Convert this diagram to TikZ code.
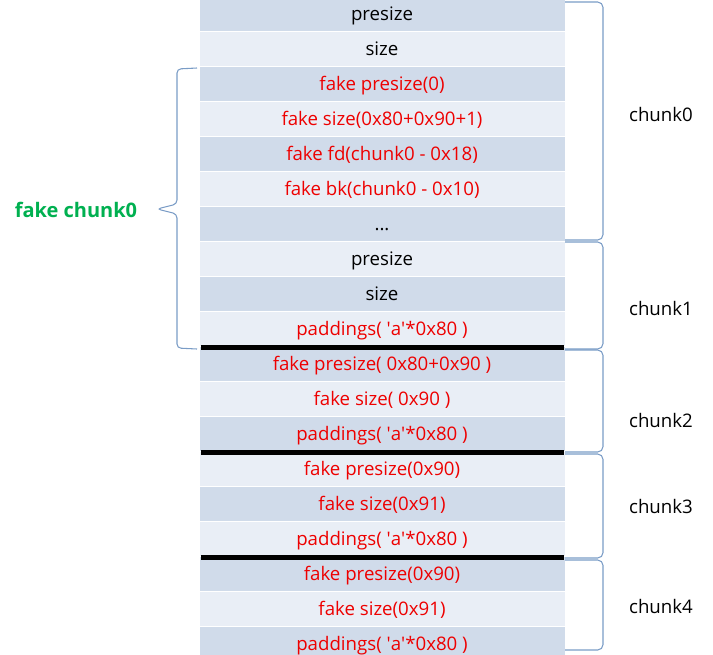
\documentclass[tikz,border=0pt]{standalone}
\usepackage{fontspec}
\setmainfont{Open Sans}
\usetikzlibrary{calc,positioning}
\definecolor{rowdark}{HTML}{D0DBEA}
\definecolor{rowlight}{HTML}{E9EEF6}
\definecolor{bracecol}{HTML}{7A9CC6}
\definecolor{fakered}{HTML}{EE0000}
\definecolor{fakegreen}{HTML}{00B050}
\newcommand{\rowdots}{...}
\newcommand{\sq}{\textquotesingle}
\tikzset{
  memrow/.style={minimum width=274.5pt, minimum height=26.25pt, inner sep=0pt,
    text height=12.5pt, text depth=1.5pt,
    draw=white, line width=0.6pt, font=\fontsize{14}{16}\selectfont},
  sepline/.style={line width=3.8pt, black},
  bracket/.style={draw=bracecol, line width=0.8pt, rounded corners=4pt},
  chunklabel/.style={font=\fontsize{14}{16}\selectfont}
}

\begin{document}
\begin{tikzpicture}[x=0.75pt,y=-0.75pt]
  %\draw[color=gray,step=10, help lines,opacity=0.3] (0,0) grid (713,654); %help grid
  \useasboundingbox (0,0) rectangle (713,654);
  % the memory rows
  \foreach \col/\txt [count=\i from 0] in {
      black/presize, black/size, fakered/fake presize(0),
      fakered/fake size(0x80+0x90+1), fakered/fake fd(chunk0 - 0x18),
      fakered/fake bk(chunk0 - 0x10), black/\rowdots, black/presize, black/size,
      fakered/paddings( \sq a\sq*0x80 ), fakered/fake presize( 0x80+0x90 ),
      fakered/fake size( 0x90 ), fakered/paddings( \sq a\sq*0x80 ),
      fakered/fake presize(0x90), fakered/fake size(0x91),
      fakered/paddings( \sq a\sq*0x80 ), fakered/fake presize(0x90),
      fakered/fake size(0x91), fakered/paddings( \sq a\sq*0x80 )}
  {
    \pgfmathparse{mod(\i,2)==0 ? "rowdark" : "rowlight"}
    \edef\rowfill{\pgfmathresult}
    \node[memrow, fill=\rowfill, text=\col] (r\i) at (382,35*\i+13.5) {\txt};
  }
  % thick borders between chunks
  \foreach \j in {9,12,15}
    \draw[sepline] ([xshift=2pt,yshift=-1pt]r\j.south west) -- ([xshift=-1pt,yshift=-1pt]r\j.south east);
  % brackets of the chunks
  \foreach \name/\top/\bot/\ly in {chunk0/2/240/114, chunk1/242/349/308,
      chunk2/350/452/420, chunk3/454/558/506, chunk4/560/650/606}
  {
    \coordinate (\name t) at (565,\top);
    \coordinate (\name b) at (565,\bot);
    \draw[bracket] (\name t) -- (603,\top) -- (603,\bot) -- (\name b);
    \node[chunklabel] (\name) at (661,\ly) {\name};
  }
  % the fake chunk
  \coordinate (faket) at (197,68);
  \coordinate (fakeb) at (197,349);
  \coordinate (faketip) at (157,209);
  \draw[bracket, rounded corners=3pt] (faket) -- (177,69) -- (177,204) -- (faketip)
    -- (177,214) -- (177,348) -- (fakeb);
  \node[font=\fontsize{15}{17}\selectfont\bfseries, text=fakegreen] (fake) at (76,210) {fake chunk0};
\end{tikzpicture}
\end{document}
